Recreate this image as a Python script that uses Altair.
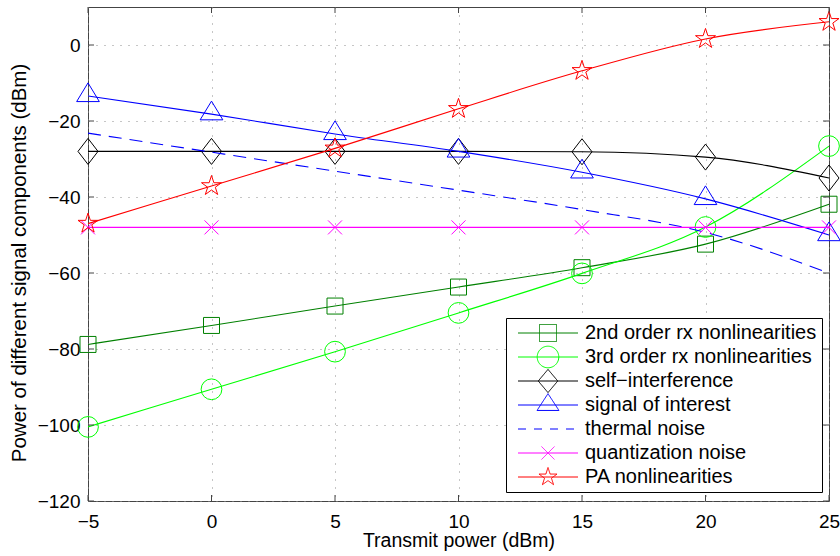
import altair as alt
import pandas as pd

# ---------------- data ----------------
tx_power = [-5, 0, 5, 10, 15, 20, 25]
rx2_nonlin = [-78.8, -73.8, -68.7, -63.7, -58.6, -52.4, -41.9]
rx3_nonlin = [-100.5, -90.6, -80.7, -70.5, -60.1, -47.9, -26.6]
self_interf = [-28.0, -28.0, -28.0, -28.0, -28.1, -29.5, -35.0]
signal_int = [-13.4, -18.2, -23.4, -28.0, -33.5, -40.5, -50.0]
thermal = [-23.2, -28.2, -33.2, -38.2, -43.3, -49.3, -60.0]
quant = [-48.0, -48.0, -48.0, -48.0, -48.0, -48.0, -48.0]
pa_nonlin = [-47.0, -37.1, -27.2, -16.8, -6.8, 1.6, 6.1]

series = [
    "2nd order rx nonlinearities",
    "3rd order rx nonlinearities",
    "self\u2212interference",
    "signal of interest",
    "thermal noise",
    "quantization noise",
    "PA nonlinearities",
]
values = [rx2_nonlin, rx3_nonlin, self_interf, signal_int, thermal, quant, pa_nonlin]

x_ticks = [-5, 0, 5, 10, 15, 20, 25]
y_ticks = [-120, -100, -80, -60, -40, -20, 0]

# ---------------- styles ----------------
colors = ["#008000", "#00ff00", "#000000", "#0000ff", "#0000ff", "#ff00ff", "#ff0000"]
plot_dash = [None, None, None, None, [13, 8], None, None]
legend_dash = [[1, 0], [1, 0], [1, 0], [1, 0], [8, 8], [1, 0], [1, 0]]

STAR = ("M0,-1L0.225,-0.309L0.951,-0.309L0.363,0.118L0.588,0.809L0,0.382"
        "L-0.588,0.809L-0.363,0.118L-0.951,-0.309L-0.225,-0.309Z")
plot_shapes = [
    ("square", 256),
    ("circle", 430),
    ("M0,-1L0.77,0L0,1L-0.77,0Z", 676),
    ("M0,-1.15L1,0.5L-1,0.5Z", 515),
    None,
    ("M-1,-1L1,1M-1,1L1,-1", 196),
    (STAR, 441),
]

# legend symbols: unit = 8 px (symbol size 256)
LINE = "M-4.625,0M-3.75,0H3.75"
CIRCLE = ("M1.35,0C1.35,0.746,0.746,1.35,0,1.35C-0.746,1.35,-1.35,0.746,-1.35,0"
          "C-1.35,-0.746,-0.746,-1.35,0,-1.35C0.746,-1.35,1.35,-0.746,1.35,0Z")
legend_shapes = [
    LINE + "M-1.062,-1.062H1.062V1.062H-1.062Z",
    LINE + CIRCLE,
    LINE + "M0,-1.45L1.22,0L0,1.45L-1.22,0Z",
    LINE + "M0,-1.42L1.37,0.68L-1.37,0.68Z",
    LINE,
    LINE + "M-0.81,-0.81L0.81,0.81M-0.81,0.81L0.81,-0.81",
    LINE + ("M0,-1.185L0.267,-0.366L1.127,-0.366L0.430,0.140L0.697,0.959L0,0.453"
            "L-0.697,0.959L-0.430,0.140L-1.127,-0.366L-0.267,-0.366Z"),
]

FONT = "Liberation Sans"
W, H = 741, 494
TICK_COLOR = "#444444"

rows = []
for s, ys in zip(series, values):
    for xv, yv in zip(tx_power, ys):
        rows.append({"x": xv, "y": yv, "series": s})
df = pd.DataFrame(rows)

x_scale = alt.Scale(domain=[-5, 25], nice=False, zero=False)
y_scale = alt.Scale(domain=[-120, 10], nice=False, zero=False)

X = alt.X("x:Q", scale=x_scale,
          axis=alt.Axis(values=x_ticks, title="Transmit power (dBm)",
                        labelPadding=11, titlePadding=0, titleFontSize=19.5,
                        labelFlush=False, labelOverlap=False))
Y = alt.Y("y:Q", scale=y_scale,
          axis=alt.Axis(values=y_ticks, title="Power of different signal components (dBm)",
                        labelPadding=8, titlePadding=8, titleFontSize=20.5, titleY=255.5,
                        labelFlush=False, labelOverlap=False))

layers = []
base = alt.Chart(df)
for i, s in enumerate(series):
    filt = f"datum.series === '{s}'"
    line_kwargs = dict(color=colors[i], strokeWidth=1.1, interpolate="monotone")
    if plot_dash[i] is not None:
        line_kwargs["strokeDash"] = plot_dash[i]
    layers.append(base.transform_filter(filt).mark_line(**line_kwargs).encode(x=X, y=Y))
    if plot_shapes[i] is not None:
        shp, sz = plot_shapes[i]
        layers.append(
            base.transform_filter(filt)
            .mark_point(shape=shp, size=sz, filled=False, color=colors[i],
                        strokeWidth=1, opacity=1)
            .encode(x=X, y=Y)
        )

# inward ticks on all four sides
xt = pd.DataFrame({"x": x_ticks})
yt = pd.DataFrame({"y": y_ticks})
layers.append(alt.Chart(yt).mark_rule(color=TICK_COLOR, strokeWidth=1)
              .encode(y=Y, x=alt.value(0), x2=alt.value(6)))
layers.append(alt.Chart(yt).mark_rule(color=TICK_COLOR, strokeWidth=1)
              .encode(y=Y, x=alt.value(W - 6), x2=alt.value(W)))
layers.append(alt.Chart(xt).mark_rule(color=TICK_COLOR, strokeWidth=1)
              .encode(x=X, y=alt.value(H - 6), y2=alt.value(H)))
layers.append(alt.Chart(xt).mark_rule(color=TICK_COLOR, strokeWidth=1)
              .encode(x=X, y=alt.value(0), y2=alt.value(6)))

# legend (from an empty layer, domain fixed to the series list)
leg = alt.Legend(
    title=None, orient="none", legendX=418, legendY=311,
    padding=5, strokeColor="#000000", fillColor="#ffffff",
    labelFont=FONT, labelFontSize=20, labelColor="#000000", labelLimit=0,
    symbolSize=256, symbolStrokeWidth=1, symbolOffset=27, labelOffset=27,
    gridAlign="all", rowPadding=-4,
)
legend_df = pd.DataFrame({"series": series})
layers.append(
    alt.Chart(legend_df).transform_filter("false")
    .mark_point(filled=False, strokeWidth=1, opacity=1, strokeJoin="round")
    .encode(
        color=alt.Color("series:N", scale=alt.Scale(domain=series, range=colors), legend=leg),
        shape=alt.Shape("series:N", scale=alt.Scale(domain=series, range=legend_shapes), legend=leg),
        strokeDash=alt.StrokeDash("series:N", scale=alt.Scale(domain=series, range=legend_dash), legend=leg),
    )
)

chart = (
    alt.layer(*layers)
    .properties(
        width=W, height=H,
        padding={"left": 88, "top": 7, "right": 11, "bottom": 55},
        autosize=alt.AutoSizeParams(type="none"),
        background="white",
    )
    .configure_view(stroke="#444444", strokeWidth=1)
    .configure_axis(
        labelFont=FONT, labelFontSize=19, labelColor="#000000",
        titleFont=FONT, titleFontWeight="normal", titleColor="#000000",
        ticks=False, domain=False,
        grid=True, gridColor="#8c8c8c", gridDash=[1, 7], gridWidth=1, gridOpacity=1,
    )
)

chart.save("out.html", embed_options={"renderer": "svg", "actions": False})
